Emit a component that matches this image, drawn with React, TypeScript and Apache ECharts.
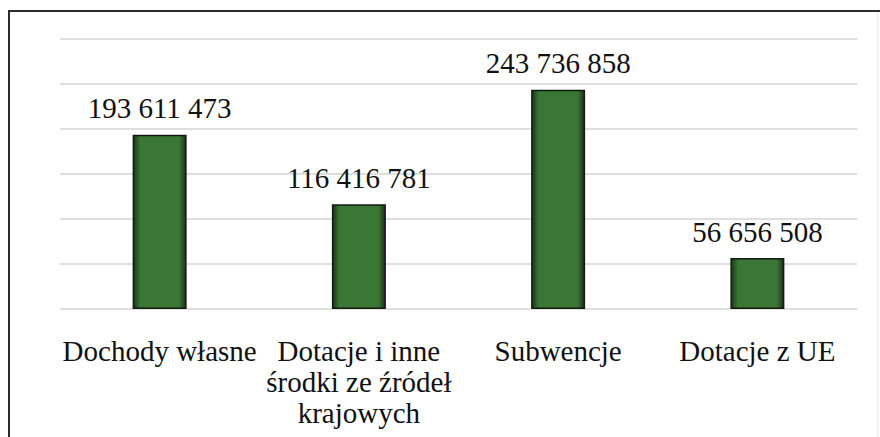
import React, { useEffect, useRef } from "react";
import * as echarts from "echarts";

const categories = [
  "Dochody własne",
  "Dotacje i inne\nśrodki ze źródeł\nkrajowych",
  "Subwencje",
  "Dotacje z UE",
];
const values = [193611473, 116416781, 243736858, 56656508];
const axisMax = 300000000;
const axisInterval = 50000000;

function fmt(v: number): string {
  return String(v).replace(/\B(?=(\d{3})+(?!\d))/g, " ");
}

export default function App() {
  const ref = useRef<HTMLDivElement>(null);
  useEffect(() => {
    if (!ref.current) return;
    const chart = echarts.init(ref.current, null, { renderer: "svg" });
    const font = "Liberation Serif, Times New Roman, DejaVu Serif, serif";
    chart.setOption({
      animation: false,
      backgroundColor: "#ffffff",
      graphic: [
        {
          type: "polyline",
          shape: { points: [[9, 440], [9, 11], [882, 11]] },
          style: { fill: "none", stroke: "#2b2b2b", lineWidth: 2 },
          z: 100,
        },
        {
          type: "line",
          shape: { x1: 878, y1: 12, x2: 878, y2: 437 },
          style: { stroke: "#e6e6e6", lineWidth: 1 },
          z: 100,
        },
      ],
      grid: { left: 60, right: 23, top: 39, bottom: 128, outerBoundsMode: "none", containLabel: false },
      xAxis: {
        type: "category",
        data: categories,
        axisLine: { show: false },
        axisTick: { show: false },
        axisLabel: {
          color: "#111",
          fontFamily: font,
          fontSize: 29,
          lineHeight: 31,
          margin: 26,
          interval: 0,
        },
      },
      yAxis: {
        type: "value",
        min: 0,
        max: axisMax,
        interval: axisInterval,
        axisLabel: { show: false },
        axisLine: { show: false },
        axisTick: { show: false },
        splitLine: { lineStyle: { color: "#d4d4d4", width: 1.5 } },
      },
      series: [
        {
          type: "bar",
          data: values,
          barWidth: 54,
          itemStyle: {
            color: new echarts.graphic.LinearGradient(0, 0, 1, 0, [
              { offset: 0, color: "#1c331a" },
              { offset: 0.13, color: "#3a7634" },
              { offset: 0.87, color: "#3a7634" },
              { offset: 1, color: "#1c331a" },
            ]),
            borderColor: "#121a12",
            borderWidth: 1.5,
          },
          label: {
            show: true,
            position: "top",
            distance: 12,
            color: "#111",
            fontFamily: font,
            fontSize: 29,
            formatter: (p: any) => fmt(p.value),
          },
        },
      ],
    });
    return () => chart.dispose();
  }, []);
  return <div ref={ref} style={{ width: 880, height: 437, position: "absolute", left: 0, top: 0 }} />;
}
